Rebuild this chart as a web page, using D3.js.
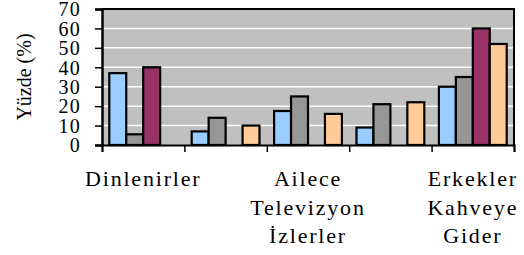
<!DOCTYPE html>
<html>
<head>
<meta charset="utf-8">
<script src="https://cdn.jsdelivr.net/npm/d3@7"></script>
<style>
  body { margin: 0; background: #fff; }
  text { font-family: "Liberation Serif", "Times New Roman", serif; fill: #000; }
</style>
</head>
<body>
<div id="graph"></div>
<script>
// data
var categories = ["Dinlenirler", "", "Ailece Televizyon İzlerler", "", "Erkekler Kahveye Gider"];
var s1 = [37, 7, 17.5, 9, 30];
var s2 = [5.5, 14, 25, 21, 35];
var s3 = [40, 0, 0, 0, 60];
var s4 = [0, 10, 16, 22, 52];
var yTicks = [0, 10, 20, 30, 40, 50, 60, 70];
var colors = ["#99ccff", "#969696", "#993366", "#ffcc99"];

var series = [s1, s2, s3, s4];

var margin = {top: 9, right: 10, bottom: 110, left: 102},
    width = 514 - margin.left,
    height = 145 - margin.top;

var svg = d3.select("#graph").append("svg")
    .attr("width", 524)
    .attr("height", 255)
  .append("g")
    .attr("transform", "translate(" + margin.left + "," + margin.top + ")");

var x0 = d3.scaleBand().domain(d3.range(categories.length)).range([0, width]);
var x1 = d3.scaleBand().domain(d3.range(series.length))
    .range([0, x0.bandwidth()]).paddingInner(0).paddingOuter(0.43);
var y = d3.scaleLinear().domain([0, 70]).range([height, 0]);

// plot area
svg.append("rect")
    .attr("width", width)
    .attr("height", height)
    .style("fill", "#c0c0c0");

// gridlines
svg.selectAll(".grid")
    .data(yTicks.slice(1, -1))
  .enter().append("line")
    .attr("x1", 0).attr("x2", width)
    .attr("y1", function(d) { return y(d); })
    .attr("y2", function(d) { return y(d); })
    .style("stroke", "#fff")
    .style("stroke-width", 1.5);

// bars
var groups = svg.selectAll(".cat")
    .data(categories)
  .enter().append("g")
    .attr("transform", function(d, i) { return "translate(" + x0(i) + ",0)"; });

groups.selectAll("rect")
    .data(function(d, i) {
      return series.map(function(s, j) { return {j: j, v: s[i]}; })
        .filter(function(d) { return d.v > 0; });
    })
  .enter().append("rect")
    .attr("x", function(d) { return x1(d.j); })
    .attr("y", function(d) { return y(d.v); })
    .attr("width", x1.bandwidth())
    .attr("height", function(d) { return height - y(d.v); })
    .style("fill", function(d) { return colors[d.j]; })
    .style("stroke", "#000")
    .style("stroke-width", 2.2);

// top and right border
svg.append("path")
    .attr("d", "M0,0H" + width + "V" + height)
    .style("fill", "none")
    .style("stroke", "#000")
    .style("stroke-width", 2);

// y axis
var yAxis = svg.append("g")
    .call(d3.axisLeft(y).tickValues(yTicks).tickSize(7).tickPadding(14));
yAxis.select(".domain").style("stroke-width", 2.5);
yAxis.selectAll("line").style("stroke-width", 1.5);
yAxis.selectAll("text")
    .style("font-family", "Liberation Serif, serif")
    .style("font-size", "20px")
    .style("letter-spacing", "1.2px")
    .attr("dy", "0.34em");

// x axis
var xAxis = svg.append("g")
    .attr("transform", "translate(0," + height + ")")
    .call(d3.axisBottom(d3.scaleLinear().domain([0, categories.length]).range([0, width]))
      .tickValues(d3.range(categories.length + 1)).tickSize(7).tickFormat(""));
xAxis.select(".domain").style("stroke-width", 2);
xAxis.selectAll("line").style("stroke-width", 1.5);

// category labels
categories.forEach(function(c, i) {
  if (!c) return;
  var words = c.split(" ");
  var t = svg.append("text")
      .attr("text-anchor", "middle")
      .style("font-size", "22px")
      .style("letter-spacing", "1.8px")
      .attr("transform", "translate(" + (x0(i) + x0.bandwidth() / 2) + "," + (height + 41) + ")");
  words.forEach(function(w, k) {
    t.append("tspan").attr("x", 0).attr("y", k * 28.5).text(w);
  });
});

// y label
svg.append("text")
    .attr("transform", "translate(-71," + (77 - margin.top) + ") rotate(-90)")
    .attr("text-anchor", "middle")
    .style("font-size", "20px")
    .text("Yüzde (%)");
</script>
</body>
</html>
